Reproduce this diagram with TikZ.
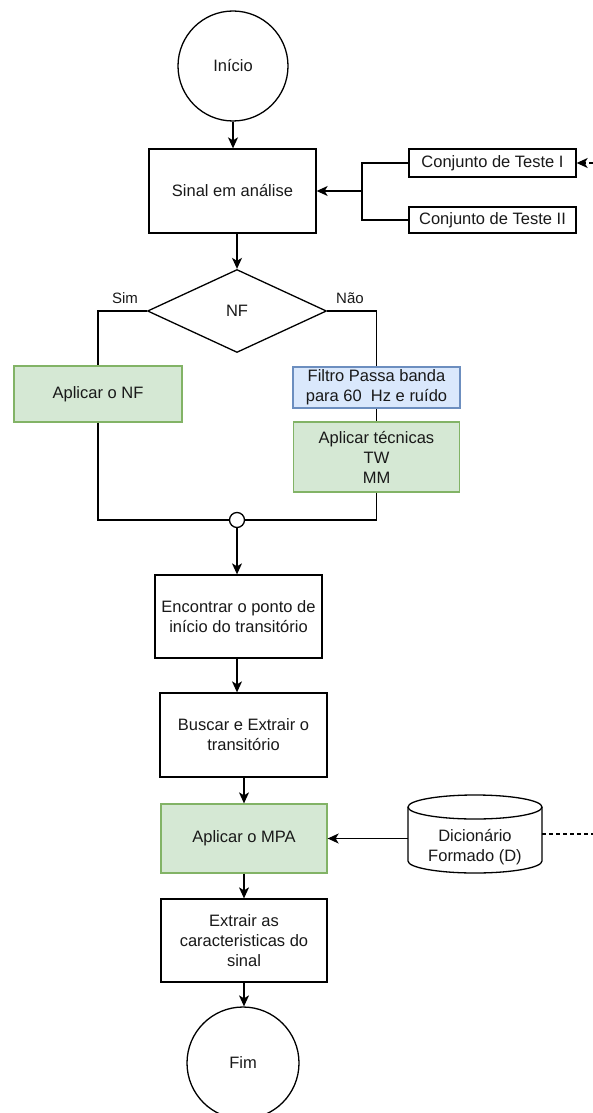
\documentclass[tikz,border=0pt]{standalone}
\usepackage{fontspec}
\setmainfont{Liberation Sans}
\usetikzlibrary{shapes.geometric,arrows.meta}
\definecolor{gfill}{HTML}{D5E8D4}
\definecolor{gline}{HTML}{82B366}
\definecolor{bfill}{HTML}{DAE8FC}
\definecolor{bline}{HTML}{6C8EBF}
\tikzset{
  base/.style={draw=black, line width=1.3pt, align=center, inner sep=2pt,
    font=\fontsize{16.5}{20}\selectfont, text=black!90},
  box/.style={base, rectangle, fill=white},
  gbox/.style={base, rectangle, fill=gfill, draw=gline},
  bbox/.style={base, rectangle, fill=bfill, draw=bline},
  term/.style={base, circle, fill=white, inner sep=0pt},
  dec/.style={base, diamond, fill=white, inner sep=0pt},
  wire/.style={line width=1.3pt, draw=black},
  arr/.style={wire, -{Stealth[length=11pt,width=10pt,inset=3pt]}},
  lbl/.style={font=\fontsize{15}{18}\selectfont, text=black!90, inner sep=0pt},
}
\begin{document}
\begin{tikzpicture}[x=1pt,y=-1pt]
\useasboundingbox (0,0) rectangle (593,1113);
\fill[white] (0,0) rectangle (593,1113);

% nodes
\node[term, minimum size=110pt] (inicio) at (233,66) {Início};
\node[box, minimum width=167pt, minimum height=84pt] (sinal) at (232.5,191) {Sinal em análise};
\node[dec, minimum width=179pt, minimum height=83pt] (nf) at (237,311) {NF};
\node[gbox, minimum width=168pt, minimum height=56pt] (nfbox) at (98,394) {Aplicar o NF};
\node[bbox, minimum width=167pt, minimum height=41pt] (filtro) at (376.5,387.5) {Filtro Passa banda\\para 60\ \ Hz e ruído};
\node[gbox, minimum width=166pt, minimum height=70pt] (tecnicas) at (376.5,457) {Aplicar técnicas\\TW\\MM};
\node[circle, draw=black, line width=1.3pt, fill=white, minimum size=15pt, inner sep=0pt] (junc) at (237,520) {};
\node[box, minimum width=167pt, minimum height=83pt] (encontrar) at (238.5,616.5) {Encontrar o ponto de\\início do transitório};
\node[box, minimum width=167pt, minimum height=84pt] (buscar) at (243.5,735) {Buscar e Extrair o\\transitório};
\node[gbox, minimum width=166pt, minimum height=69pt] (mpa) at (244,838.5) {Aplicar o MPA};
\node[box, minimum width=166pt, minimum height=83pt] (extrair) at (244,940.5) {Extrair as\\caracteristicas do\\sinal};
\node[term, minimum size=112pt] (fim) at (243,1063) {Fim};
\node[box, minimum width=167pt, minimum height=28pt] (conj1) at (492.5,163) {Conjunto de Teste I};
\node[box, minimum width=167pt, minimum height=26pt] (conj2) at (492.5,220) {Conjunto de Teste II};

% cylinder (dictionary)
\filldraw[wire, fill=white] (408,807) -- (408,861)
  arc[start angle=180, end angle=360, x radius=67pt, y radius=12pt] -- (542,807);
\draw[wire] (475,807) ellipse[x radius=67pt, y radius=12pt];
\node[align=center, font=\fontsize{16.5}{20}\selectfont, text=black!90, minimum width=134pt, inner sep=0pt] (dict) at (475,847) {Dicionário\\Formado (D)};

% labels
\node[lbl] (sim) at (125,298) {Sim};
\node[lbl] (nao) at (350,298) {Não};

% coordinates
\coordinate (br) at (362,191);
\coordinate (c1in) at (593,163);
\coordinate (dashend) at (593,834);

% connectors
\draw[arr] (inicio.south) -- (sinal.north -| inicio.south);
\draw[arr] (sinal.south -| nf.north) -- (nf.north);
\draw[wire] (conj1.west) -| (br);
\draw[wire] (conj2.west) -| (br);
\draw[arr] (br) -- (sinal.east);
\draw[arr, dashed, dash pattern=on 4pt off 3pt] (c1in) -- (conj1.east);

\draw[wire] (nf.west) -| (nfbox.north);
\draw[wire] (nfbox.south) |- (junc.west);
\draw[wire] (nf.east) -| (filtro.north);
\draw[wire] (filtro.south) -- (tecnicas.north);
\draw[wire] (tecnicas.south) |- (junc.east);

\draw[arr] (junc.south) -- (junc.south |- encontrar.north);
\draw[arr] (encontrar.south -| junc.south) -- (buscar.north -| junc.south);
\draw[arr] (buscar.south -| mpa.north) -- (mpa.north);
\draw[arr] (mpa.south) -- (extrair.north);
\draw[arr] (extrair.south) -- (extrair.south |- fim.north);

\draw[arr] (dict.west |- mpa.east) -- (mpa.east);
\draw[wire, dashed, dash pattern=on 4pt off 3pt] (dict.east |- dashend) -- (dashend);
\end{tikzpicture}
\end{document}
